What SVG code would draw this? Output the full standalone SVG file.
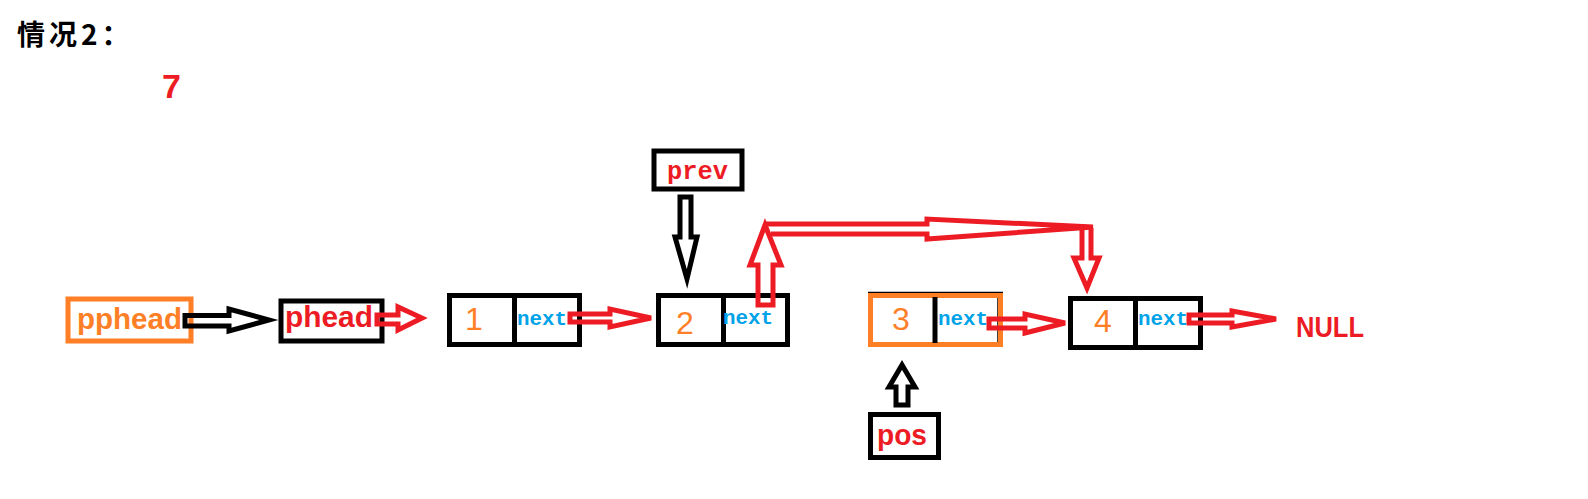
<svg xmlns="http://www.w3.org/2000/svg" width="1588" height="499" viewBox="0 0 1588 499">
<style>
.box{fill:none;stroke:#000;stroke-width:5}
.obox{fill:none;stroke:#ff7f27;stroke-width:5}
.div{stroke:#000;stroke-width:5}
.ra{fill:none;stroke:#ed1c24;stroke-width:5;stroke-linejoin:miter}
.ba{fill:none;stroke:#000;stroke-width:5;stroke-linejoin:miter}
.num{font-family:"Liberation Sans",Arial,sans-serif;font-size:32px;fill:#ff7f27;text-anchor:middle}
.nx{font-family:"Liberation Mono","DejaVu Sans Mono",monospace;font-weight:bold;font-size:21px;fill:#00a2e8}
.lbl{font-family:"Liberation Sans",Arial,sans-serif;font-weight:bold;font-size:30px}
</style>
<rect width="1588" height="499" fill="#fff"/>
<text x="17" y="45" font-family="'Noto Sans CJK SC',sans-serif" font-weight="bold" font-size="28" letter-spacing="4" fill="#000">情况2：</text>
<text x="162" y="98" font-family="'Liberation Sans',Arial,sans-serif" font-weight="bold" font-size="34" fill="#ed1c24">7</text>

<g id="pphead">
<rect class="obox" x="68" y="299" width="123" height="42" stroke-width="4"/>
<text class="lbl" x="77" y="329" fill="#ff7f27" textLength="105" lengthAdjust="spacingAndGlyphs">pphead</text>
</g>
<g id="phead">
<rect class="box" x="281" y="301" width="101" height="40" stroke-width="4"/>
<text class="lbl" x="285" y="327" fill="#ed1c24" textLength="88" lengthAdjust="spacingAndGlyphs">phead</text>
</g>
<g id="node1">
<rect class="box" x="449.5" y="295.5" width="130" height="49"/>
<line class="div" x1="514.5" y1="295" x2="514.5" y2="345"/>
<text class="num" x="474" y="330">1</text>
<text class="nx" x="517" y="325" textLength="50" lengthAdjust="spacingAndGlyphs">next</text>
</g>
<g id="node2">
<rect class="box" x="658.5" y="295.5" width="129" height="49"/>
<line class="div" x1="723.5" y1="295" x2="723.5" y2="345"/>
<text class="num" x="685" y="334">2</text>
<text class="nx" x="723" y="324" textLength="50" lengthAdjust="spacingAndGlyphs">next</text>
</g>
<g id="node3">
<line x1="868" y1="292.5" x2="1003" y2="292.5" stroke="#000" stroke-width="1.5"/>
<line x1="998" y1="297" x2="998" y2="344" stroke="#000" stroke-width="1.5"/>
<rect class="obox" x="870.5" y="295.5" width="130" height="49"/>
<line class="div" x1="935" y1="297" x2="935" y2="343" stroke-width="4"/>
<text class="num" x="901" y="330">3</text>
<text class="nx" x="938" y="325" textLength="50" lengthAdjust="spacingAndGlyphs">next</text>
</g>
<g id="node4">
<rect class="box" x="1070.5" y="298.5" width="130" height="49"/>
<line class="div" x1="1135.5" y1="298" x2="1135.5" y2="348"/>
<text class="num" x="1103" y="332">4</text>
<text class="nx" x="1138" y="325" textLength="50" lengthAdjust="spacingAndGlyphs">next</text>
</g>
<g id="prev">
<rect class="box" x="654" y="151" width="88" height="38" stroke-width="4"/>
<text x="667" y="179" font-family="'Liberation Mono','DejaVu Sans Mono',monospace" font-weight="bold" font-size="25" fill="#ed1c24" textLength="61" lengthAdjust="spacingAndGlyphs">prev</text>
</g>
<g id="pos">
<rect class="box" x="870.5" y="414.5" width="68" height="43"/>
<text class="lbl" x="877" y="445" fill="#ed1c24" textLength="50" lengthAdjust="spacingAndGlyphs">pos</text>
</g>
<g id="null">
<text x="1296" y="337" font-family="'Liberation Sans',Arial,sans-serif" font-weight="bold" font-size="30" fill="#ed1c24" textLength="68" lengthAdjust="spacingAndGlyphs">NULL</text>
</g>

<g id="connectors">
<polygon class="ba" points="185,315.5 229,315.5 229,309 269,320 229,331 229,326 185,326"/>
<polygon class="ra" points="377,315 398,315 398,307 422,318 398,330 398,324 377,324"/>
<polygon class="ra" points="570,314 610,314 610,309 651,318 610,327 610,322 570,322"/>
<polygon class="ra" points="758,305 758,265 750,265 765,225 781,265 773,265 773,305"/>
<polyline class="ra" points="765,224 927,224 927,219 1093,227 927,239 927,234 771,234"/>
<polyline class="ra" points="1082,229 1082,258 1074,258 1087,288 1099,258 1091,258 1091,228"/>
<polygon class="ba" points="680,197 691,197 691,237 697,237 687,279 675,237 680,237"/>
<polygon class="ra" points="989,319 1025,319 1025,314 1065,323 1025,333 1025,328 989,328"/>
<polygon class="ba" points="896,405 896,387 889,387 902,365 915,387 908,387 908,405"/>
<polygon class="ra" points="1189,315 1232,315 1232,311 1276,319 1232,327 1232,323 1189,323"/>
</g>
</svg>
